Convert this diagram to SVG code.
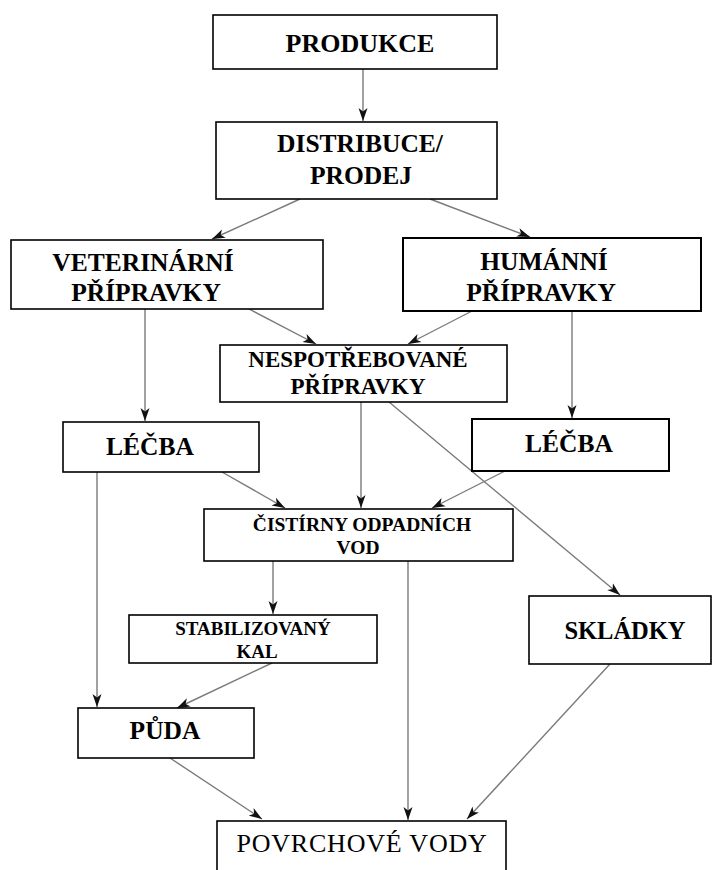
<svg xmlns="http://www.w3.org/2000/svg" width="712" height="870" viewBox="0 0 712 870">
<style>
.box{fill:#fff;stroke:#000;stroke-width:1.6}
.bx2{fill:#fff;stroke:#000;stroke-width:2}
.t{font-family:'Liberation Serif','Times New Roman',Times,'DejaVu Serif',serif;font-weight:700;fill:#000;text-anchor:middle}
.n{font-family:'Liberation Serif','Times New Roman',Times,'DejaVu Serif',serif;font-weight:400;fill:#000;text-anchor:middle}
.c line{stroke:#7a7a7a;stroke-width:1.4;marker-end:url(#ah)}
</style>
<defs>
<marker id="ah" markerUnits="userSpaceOnUse" markerWidth="14" markerHeight="10" refX="13" refY="5" orient="auto">
<path d="M0,0.5 L13,5 L0,9.5 L3.5,5 Z" fill="#111"/>
</marker>
</defs>
<rect width="712" height="870" fill="#fff"/>
<g class="c" id="connectors">
<line x1="363" y1="69" x2="363" y2="121"/>
<line x1="300" y1="199" x2="212" y2="239"/>
<line x1="430" y1="199" x2="530" y2="237"/>
<line x1="249" y1="309" x2="316" y2="344"/>
<line x1="472" y1="311" x2="408" y2="344"/>
<line x1="145" y1="309" x2="145" y2="421"/>
<line x1="572" y1="311" x2="572" y2="418"/>
<line x1="361" y1="402" x2="361" y2="508"/>
<line x1="389" y1="402" x2="620" y2="595"/>
<line x1="222" y1="472" x2="285" y2="508"/>
<line x1="505" y1="471" x2="432" y2="508"/>
<line x1="97" y1="472" x2="97" y2="707"/>
<line x1="273" y1="561" x2="273" y2="614"/>
<line x1="408" y1="561" x2="408" y2="820"/>
<line x1="272" y1="663" x2="177" y2="708"/>
<line x1="610" y1="664" x2="467" y2="819"/>
<line x1="170" y1="758" x2="262" y2="819"/>
</g>
<g id="produkce"><rect class="box" x="213" y="15" width="284" height="54"/><text class="t" x="360" y="52" font-size="26">PRODUKCE</text></g>
<g id="distribuce"><rect class="box" x="216" y="122" width="281" height="77"/><text class="t" x="360" y="152" font-size="25.5">DISTRIBUCE/</text><text class="t" x="361" y="184" font-size="25.5">PRODEJ</text></g>
<g id="veterinarni"><rect class="box" x="11" y="240" width="312" height="69"/><text class="t" x="143" y="271" font-size="25.5">VETERINÁRNÍ</text><text class="t" x="146" y="301" font-size="25.5">PŘÍPRAVKY</text></g>
<g id="humanni"><rect class="bx2" x="403" y="238" width="298" height="73"/><text class="t" x="544" y="270" font-size="25.5">HUMÁNNÍ</text><text class="t" x="541" y="301" font-size="25.5">PŘÍPRAVKY</text></g>
<g id="nespotrebovane"><rect class="box" x="220" y="345" width="287" height="57"/><text class="t" x="358" y="367" font-size="23">NESPOTŘEBOVANÉ</text><text class="t" x="358" y="394" font-size="23">PŘÍPRAVKY</text></g>
<g id="lecba-l"><rect class="box" x="63" y="422" width="196" height="50"/><text class="t" x="150" y="455" font-size="25.5">LÉČBA</text></g>
<g id="lecba-r"><rect class="bx2" x="472" y="419" width="197" height="52"/><text class="t" x="569" y="452" font-size="25.5">LÉČBA</text></g>
<g id="cistirny"><rect class="box" x="204" y="509" width="309" height="52"/><text class="t" x="362" y="531" font-size="19.5">ČISTÍRNY ODPADNÍCH</text><text class="t" x="358" y="554" font-size="19.5">VOD</text></g>
<g id="stabilizovany"><rect class="box" x="129" y="615" width="248" height="48"/><text class="t" x="253" y="635" font-size="19">STABILIZOVANÝ</text><text class="t" x="257" y="658" font-size="19">KAL</text></g>
<g id="skladky"><rect class="box" x="529" y="596" width="182" height="68"/><text class="t" x="625" y="639" font-size="24.5">SKLÁDKY</text></g>
<g id="puda"><rect class="box" x="78" y="708" width="176" height="50"/><text class="t" x="165" y="739" font-size="25.5">PŮDA</text></g>
<g id="povrchove"><rect class="box" x="217" y="821" width="289" height="70"/><text class="n" x="362" y="852" font-size="26" letter-spacing="0.8">POVRCHOVÉ VODY</text></g>
</svg>
